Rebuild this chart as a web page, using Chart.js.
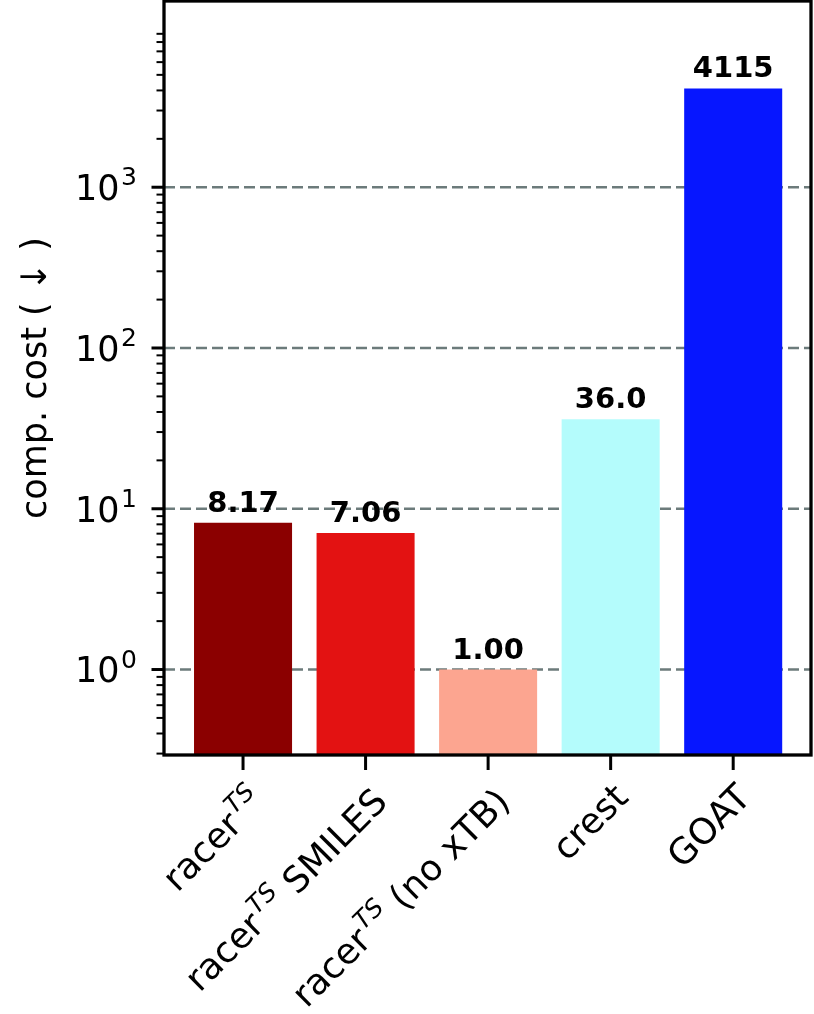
<!DOCTYPE html>
<html>
<head>
<meta charset="utf-8">
<script src="https://cdn.jsdelivr.net/npm/chart.js@4.4.1/dist/chart.umd.min.js"></script>
<style>
  html, body { margin: 0; padding: 0; background: #fff; }
  #wrap { width: 814px; height: 1014px; }
</style>
</head>
<body>
<div id="wrap"><canvas id="cost-chart" width="814" height="1014"></canvas></div>
<script>
// values
const categories = ['racer$^{TS}$', 'racer$^{TS}$ SMILES', 'racer$^{TS}$ (no xTB)', 'crest', 'GOAT'];
const costs = [8.17, 7.06, 1.00, 36.0, 4115];
const costLabels = ['8.17', '7.06', '1.00', '36.0', '4115'];
const barColors = ['#8b0000', '#e31212', '#fca590', '#b4fcfc', '#0616ff'];
const majorTicks = [1, 10, 100, 1000];
const majorTickLabels = ['10$^{0}$', '10$^{1}$', '10$^{2}$', '10$^{3}$'];
const yRange = [0.294, 14400];
const xRange = [-0.645, 4.635];

const FONT = "'DejaVu Sans', sans-serif";
const GRID_COLOR = '#6c7b7b';
const YTICK_SIZE = 35;
const XTICK_SIZE = 36;

// minor ticks 2..9 x 10^n inside the y range
const minorTicks = [];
[0.1, 1, 10, 100, 1000, 10000].forEach(d => {
  for (let m = 2; m <= 9; m++) {
    const v = +(m * d).toPrecision(3);
    if (v > yRange[0] && v < yRange[1]) minorTicks.push(v);
  }
});

// split 'racer$^{TS}$ SMILES' into normal / superscript runs
function splitRich(str) {
  const parts = [];
  const re = /\$\^\{(.+?)\}\$/g;
  let last = 0, m;
  while ((m = re.exec(str)) !== null) {
    if (m.index > last) parts.push({ text: str.slice(last, m.index), sup: false });
    parts.push({ text: m[1], sup: true });
    last = re.lastIndex;
  }
  if (last < str.length) parts.push({ text: str.slice(last), sup: false });
  return parts;
}

// draws a rich label ending at x = 0 with its baseline at y = base
function drawRich(ctx, str, size, base, italicSup) {
  const parts = splitRich(str);
  const supSize = Math.round(size * 0.7);
  const fonts = parts.map(p => p.sup
    ? `${italicSup ? 'italic ' : ''}${supSize}px ${FONT}`
    : `${size}px ${FONT}`);
  let total = 0;
  const widths = parts.map((p, k) => {
    ctx.font = fonts[k];
    const w = ctx.measureText(p.text).width + (p.sup ? 1.5 : 0);
    total += w;
    return w;
  });
  ctx.textAlign = 'left';
  ctx.textBaseline = 'alphabetic';
  let cx = -total;
  parts.forEach((p, k) => {
    ctx.font = fonts[k];
    ctx.fillText(p.text, cx + (p.sup ? 1.5 : 0), p.sup ? base - size * 0.42 : base);
    cx += widths[k];
  });
}

const axesPlugin = {
  id: 'axesPlugin',
  beforeDatasetsDraw(chart) {
    const { ctx, chartArea, scales } = chart;
    ctx.save();
    ctx.strokeStyle = GRID_COLOR;
    ctx.lineWidth = 2.5;
    ctx.setLineDash([11, 5]);
    majorTicks.forEach(v => {
      const y = scales.y.getPixelForValue(v);
      ctx.beginPath();
      ctx.moveTo(chartArea.left, y);
      ctx.lineTo(chartArea.right, y);
      ctx.stroke();
    });
    ctx.restore();
  },
  afterDatasetsDraw(chart) {
    const { ctx } = chart;
    const meta = chart.getDatasetMeta(0);
    ctx.save();
    ctx.fillStyle = '#000';
    ctx.font = 'bold 29px ' + FONT;
    ctx.textAlign = 'center';
    ctx.textBaseline = 'alphabetic';
    meta.data.forEach((bar, i) => {
      ctx.fillText(costLabels[i], bar.x, bar.y - 11);
    });
    ctx.restore();
  },
  afterDraw(chart) {
    const { ctx, chartArea, scales } = chart;
    const { left, right, top, bottom } = chartArea;
    ctx.save();
    ctx.strokeStyle = '#000';
    ctx.fillStyle = '#000';

    // y tick marks and labels
    majorTicks.forEach((v, i) => {
      const y = scales.y.getPixelForValue(v);
      ctx.lineWidth = 3;
      ctx.beginPath(); ctx.moveTo(left - 12.5, y); ctx.lineTo(left, y); ctx.stroke();
      ctx.save();
      ctx.translate(left - 27, y);
      drawRich(ctx, majorTickLabels[i], YTICK_SIZE, YTICK_SIZE * 0.729 / 2, false);
      ctx.restore();
    });
    minorTicks.forEach(v => {
      const y = scales.y.getPixelForValue(v);
      ctx.lineWidth = 2;
      ctx.beginPath(); ctx.moveTo(left - 7.5, y); ctx.lineTo(left, y); ctx.stroke();
    });

    // x tick marks and rotated labels
    categories.forEach((cat, i) => {
      const x = scales.x.getPixelForValue(i);
      ctx.lineWidth = 3;
      ctx.beginPath(); ctx.moveTo(x, bottom); ctx.lineTo(x, bottom + 15); ctx.stroke();

      const hasSup = cat.includes('$^');
      const s = XTICK_SIZE;
      const base = hasSup ? Math.max(s * 0.76, s * 0.42 + s * 0.7 * 0.73) : s * 0.76;
      ctx.save();
      ctx.translate(x, bottom + 25);
      ctx.rotate(-Math.PI / 4);
      drawRich(ctx, cat, s, base, true);
      ctx.restore();
    });

    // box spines
    ctx.lineWidth = 3.3;
    ctx.setLineDash([]);
    ctx.strokeRect(left, top, right - left, bottom - top);
    ctx.restore();
  }
};

const ctx = document.getElementById('cost-chart').getContext('2d');
new Chart(ctx, {
  type: 'bar',
  data: {
    datasets: [{
      data: costs.map((v, i) => ({ x: i, y: v })),
      backgroundColor: barColors,
      borderWidth: 0,
      barPercentage: 0.8,
      categoryPercentage: 1.0
    }]
  },
  options: {
    responsive: false,
    animation: false,
    devicePixelRatio: 1,
    layout: { padding: { top: 1, right: 3, left: 0, bottom: 0 } },
    plugins: {
      legend: { display: false },
      tooltip: { enabled: false }
    },
    scales: {
      x: {
        type: 'linear',
        min: xRange[0],
        max: xRange[1],
        offset: false,
        grid: { display: false },
        border: { display: false },
        ticks: { display: false },
        afterBuildTicks: axis => { axis.ticks = categories.map((c, i) => ({ value: i })); },
        afterFit: scale => {
          scale.height = 259;
          scale.paddingLeft = 0;
          scale.paddingRight = 0;
        }
      },
      y: {
        type: 'logarithmic',
        min: yRange[0],
        max: yRange[1],
        grid: { display: false },
        border: { display: false },
        afterBuildTicks: axis => {
          axis.ticks = majorTicks.map(v => ({ value: v, major: true }));
        },
        ticks: { display: false },
        title: {
          display: true,
          text: 'comp. cost ( ↓ )',
          color: '#000',
          font: { family: FONT, size: 35 },
          padding: { top: 16, bottom: 0 }
        },
        afterFit: scale => {
          scale.width = 164;
          scale.paddingTop = 0;
          scale.paddingBottom = 0;
        }
      }
    }
  },
  plugins: [axesPlugin]
});
</script>
</body>
</html>
